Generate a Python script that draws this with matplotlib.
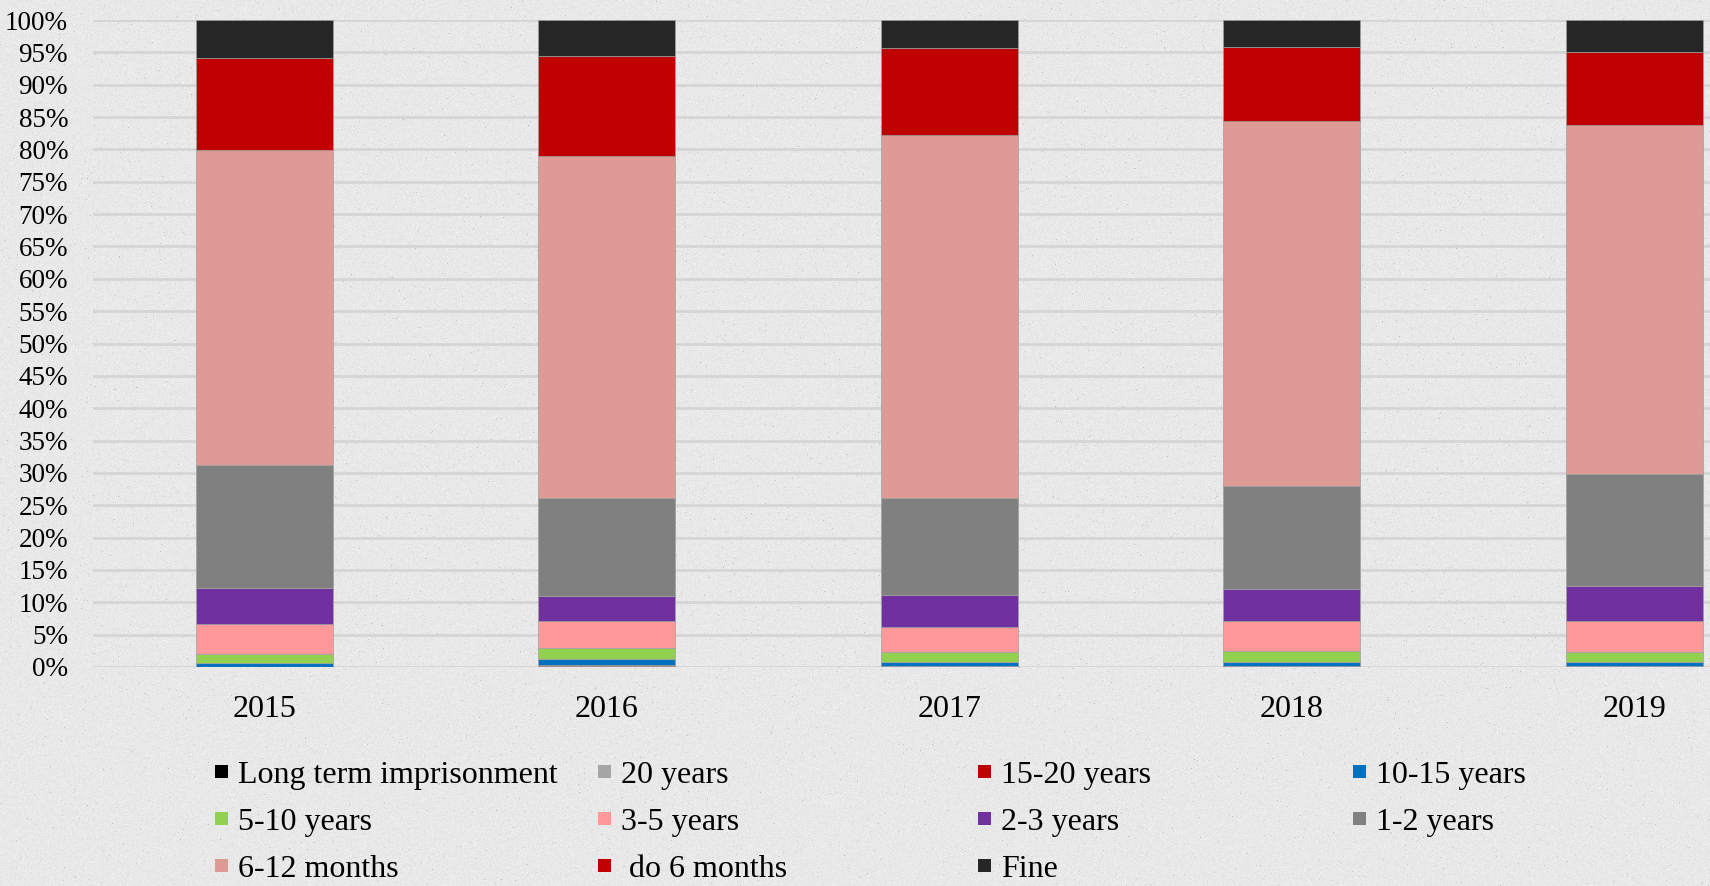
import numpy as np
import matplotlib
matplotlib.use('Agg')
import matplotlib.pyplot as plt
from matplotlib.patches import Patch

# --- Data: share of sentences by type, % of all convictions ---
years = ['2015', '2016', '2017', '2018', '2019']

long_term = [0.05, 0.05, 0.05, 0.05, 0.05]
y20       = [0.00, 0.05, 0.10, 0.05, 0.05]
y15_20    = [0.00, 0.25, 0.05, 0.05, 0.05]
y10_15    = [0.55, 0.90, 0.60, 0.60, 0.60]
y5_10     = [1.45, 1.70, 1.55, 1.70, 1.60]
y3_5      = [4.65, 4.15, 3.80, 4.70, 4.70]
y2_3      = [5.55, 3.95, 5.00, 4.85, 5.50]
y1_2      = [19.00, 15.10, 14.90, 15.90, 17.35]
m6_12     = [48.70, 52.80, 56.15, 56.50, 53.80]
m0_6      = [14.20, 15.50, 13.50, 11.40, 11.30]
fine      = [5.85, 5.55, 4.30, 4.20, 5.00]

labels = ['Long term imprisonment', '20 years', '15-20 years', '10-15 years',
          '5-10 years', '3-5 years', '2-3 years', '1-2 years',
          '6-12 months', ' do 6 months', 'Fine']
series = [long_term, y20, y15_20, y10_15, y5_10, y3_5, y2_3, y1_2, m6_12, m0_6, fine]
colors = ['#000000', '#A5A5A5', '#C00000', '#0070C0', '#92D050', '#FF9999',
          '#7030A0', '#808080', '#DE9A94', '#C00000', '#262626']

BG    = '#E8E8E8'
GRID  = '#D5D5D5'
W, H  = 1710, 886

plt.rcParams['font.family'] = ['Liberation Serif', 'DejaVu Serif']

fig = plt.figure(figsize=(W / 100, H / 100), dpi=100)
fig.patch.set_facecolor(BG)

# light speckled paper background
rng = np.random.default_rng(7)
paper = 232 + rng.normal(0, 3.5, (H, W))
specks = rng.random((H, W)) < 0.004
paper[specks] -= rng.uniform(15, 45, specks.sum())
paper = np.clip(paper, 0, 255) / 255
fig.figimage(paper, cmap='gray', vmin=0, vmax=1, zorder=-10)

ax = fig.add_axes([93 / W, 1 - 667 / H, 1 - 93 / W, (667 - 20) / H])
ax.set_facecolor('none')

x = np.arange(len(years))
data = np.array(series, dtype=float)
data = data / data.sum(axis=0) * 100  # 100% stacked
bottom = np.zeros(len(years))
for vals, c in zip(data, colors):
    ax.bar(x, vals, 0.4, bottom=bottom, color=c, edgecolor='#A0A0A0',
           linewidth=0.5, zorder=3)
    bottom += vals

ax.set_xlim(-0.5, 4.221)
ax.set_ylim(0, 100)
ax.set_yticks(np.arange(0, 101, 5))
ax.set_yticklabels([f'{v}%' for v in range(0, 101, 5)])
ax.set_xticks(x)
ax.set_xticklabels(years)
ax.grid(axis='y', color=GRID, linewidth=2, zorder=0)
ax.set_axisbelow(True)
for s in ax.spines.values():
    s.set_visible(False)
ax.tick_params(axis='y', length=0, pad=18, labelsize=19.5)
ax.tick_params(axis='x', length=0, pad=20, labelsize=23)

# legend: 4 fixed-width columns, filled row by row
handles = [Patch(facecolor=c, edgecolor='none') for c in colors]
col_x = [215, 598, 978, 1353]
for ci, cx in enumerate(col_x):
    idx = list(range(ci, len(labels), 4))
    fig.legend([handles[i] for i in idx], [labels[i] for i in idx],
               loc='upper left', bbox_to_anchor=(cx / W, 1 - 761 / H),
               frameon=False, fontsize=23, handlelength=0.41, handleheight=0.25,
               handletextpad=0.3, labelspacing=0.57, borderpad=0,
               borderaxespad=0)

fig.savefig('out.png', dpi=100, facecolor=BG)
